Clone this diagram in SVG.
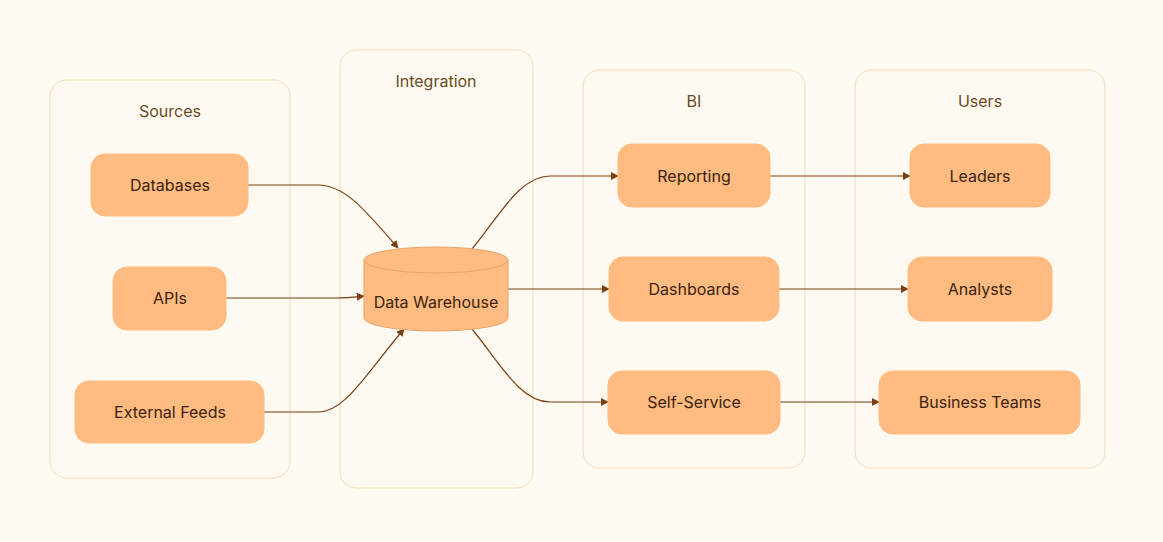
<svg xmlns="http://www.w3.org/2000/svg" width="1163" height="542" viewBox="0 0 1163 542">
<defs>
<style>
.cluster{fill:#fffaf1;stroke:#f0dfbd;stroke-width:1}
.clabel{font-family:Inter,"Liberation Sans",sans-serif;font-size:16px;fill:#6b4a1f;text-anchor:middle}
.node{fill:#ffbb80;stroke:#ffbb80;stroke-width:1}
.cyl{fill:#ffbb80;stroke:#e8a46a;stroke-width:1}
.nlabel{font-family:Inter,"Liberation Sans",sans-serif;font-size:16px;fill:#3a230f;text-anchor:middle}
.edge{fill:none;stroke:#7a3f12;stroke-width:1.2}
</style>
<marker id="arrow" viewBox="0 0 10 10" refX="9" refY="5" markerWidth="8" markerHeight="8" markerUnits="userSpaceOnUse" orient="auto">
<path d="M0,0 L10,5 L0,10 z" fill="#7a3f12"/>
</marker>
</defs>
<rect x="0" y="0" width="1163" height="542" fill="#fffaf2"/>
<g id="cluster-sources">
<rect class="cluster" x="50" y="80" width="240" height="398" rx="16"/>
<text class="clabel" x="170" y="117">Sources</text>
</g>
<g id="cluster-integration">
<rect class="cluster" x="340" y="50" width="193" height="438" rx="16"/>
<text class="clabel" x="436" y="87">Integration</text>
</g>
<g id="cluster-bi">
<rect class="cluster" x="583" y="70" width="222" height="398" rx="16"/>
<text class="clabel" x="694" y="107">BI</text>
</g>
<g id="cluster-users">
<rect class="cluster" x="855" y="70" width="250" height="398" rx="16"/>
<text class="clabel" x="980" y="107">Users</text>
</g>
<g id="edges">
<path class="edge" marker-end="url(#arrow)" d="M248,185 L318,185 C345,185 365,210 398,248"/>
<path class="edge" marker-end="url(#arrow)" d="M226,298 L335,298 C348,298 355,297 364,296"/>
<path class="edge" marker-end="url(#arrow)" d="M264,412 L318,412 C345,412 365,375 404,329"/>
<path class="edge" marker-end="url(#arrow)" d="M472,249 C500,215 520,176 550,176 L618,176"/>
<path class="edge" marker-end="url(#arrow)" d="M508,289 L609,289"/>
<path class="edge" marker-end="url(#arrow)" d="M472,329 C500,363 520,402 550,402 L608,402"/>
<path class="edge" marker-end="url(#arrow)" d="M770,176 L910,176"/>
<path class="edge" marker-end="url(#arrow)" d="M779,289 L908,289"/>
<path class="edge" marker-end="url(#arrow)" d="M780,402 L879,402"/>
</g>
<g id="node-databases">
<rect class="node" x="91" y="154" width="157" height="62" rx="14"/>
<text class="nlabel" x="170" y="191">Databases</text>
</g>
<g id="node-apis">
<rect class="node" x="113" y="267" width="113" height="63" rx="14"/>
<text class="nlabel" x="170" y="304">APIs</text>
</g>
<g id="node-external">
<rect class="node" x="75" y="381" width="189" height="62" rx="14"/>
<text class="nlabel" x="170" y="418">External Feeds</text>
</g>
<g id="node-warehouse">
<path class="cyl" d="M364,260 A72,13 0 0 1 508,260 L508,318 A72,13 0 0 1 364,318 Z"/>
<path fill="none" stroke="#e8a46a" stroke-width="1" d="M364,260 A72,13 0 0 0 508,260"/>
<text class="nlabel" x="436" y="308">Data Warehouse</text>
</g>
<g id="node-reporting">
<rect class="node" x="618" y="144" width="152" height="63" rx="14"/>
<text class="nlabel" x="694" y="182">Reporting</text>
</g>
<g id="node-dashboards">
<rect class="node" x="609" y="257" width="170" height="64" rx="14"/>
<text class="nlabel" x="694" y="295">Dashboards</text>
</g>
<g id="node-selfservice">
<rect class="node" x="608" y="371" width="172" height="63" rx="14"/>
<text class="nlabel" x="694" y="408">Self-Service</text>
</g>
<g id="node-leaders">
<rect class="node" x="910" y="144" width="140" height="63" rx="14"/>
<text class="nlabel" x="980" y="182">Leaders</text>
</g>
<g id="node-analysts">
<rect class="node" x="908" y="257" width="144" height="64" rx="14"/>
<text class="nlabel" x="980" y="295">Analysts</text>
</g>
<g id="node-business">
<rect class="node" x="879" y="371" width="201" height="63" rx="14"/>
<text class="nlabel" x="980" y="408">Business Teams</text>
</g>
</svg>
